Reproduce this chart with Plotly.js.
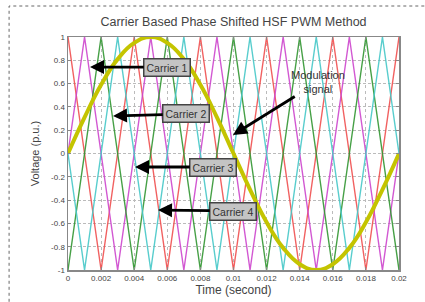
<!DOCTYPE html>
<html><head><meta charset="utf-8">
<script src="https://cdn.plot.ly/plotly-3.0.1.min.js"></script>
<style>html,body{margin:0;padding:0;background:#fff}#c{width:425px;height:302px}</style>
</head><body><div id="c"></div>
<script>
// Carrier 1..4 vertex times (s) and values (p.u.)
const c1T = [0,0.002,0.004,0.006,0.008,0.010,0.012,0.014,0.016,0.018,0.020];
const c1V = [1,-1,1,-1,1,-1,1,-1,1,-1,1];
const c2T = [0,0.001,0.003,0.005,0.007,0.009,0.011,0.013,0.015,0.017,0.019,0.020];
const c2V = [0,1,-1,1,-1,1,-1,1,-1,1,-1,0];
const c3T = [0,0.002,0.004,0.006,0.008,0.010,0.012,0.014,0.016,0.018,0.020];
const c3V = [-1,1,-1,1,-1,1,-1,1,-1,1,-1];
const c4T = [0,0.001,0.003,0.005,0.007,0.009,0.011,0.013,0.015,0.017,0.019,0.020];
const c4V = [0,-1,1,-1,1,-1,1,-1,1,-1,1,0];
// Modulation signal samples
const modT = [0,0.001,0.002,0.003,0.004,0.005,0.006,0.007,0.008,0.009,0.010,0.011,0.012,0.013,0.014,0.015,0.016,0.017,0.018,0.019,0.020];
const modV = [0,0.31,0.59,0.81,0.95,1,0.95,0.81,0.59,0.31,0,-0.31,-0.59,-0.81,-0.95,-1,-0.95,-0.81,-0.59,-0.31,0];
const xTicks = [0,0.002,0.004,0.006,0.008,0.01,0.012,0.014,0.016,0.018,0.02];
const xTickText = ["0","0.002","0.004","0.006","0.008","0.01","0.012","0.014","0.016","0.018","0.02"];
const yTicks = [-1,-0.8,-0.6,-0.4,-0.2,0,0.2,0.4,0.6,0.8,1];
const yTickText = ["-1","-0.8","-0.6","-0.4","-0.2","0","0.2","0.4","0.6","0.8","1"];
const labels = ["Carrier 1","Carrier 2","Carrier 3","Carrier 4"];
const labelTipT = [0.00133,0.00272,0.00405,0.00544];
const labelTipV = [0.742,0.322,-0.116,-0.485];

const ln = (x,y,c)=>({x:x,y:y,type:'scatter',mode:'lines',line:{color:c,width:1.4},hoverinfo:'skip'});
const data = [
  ln(c1T,c1V,'rgba(240,80,80,0.9)'),
  ln(c2T,c2V,'rgba(205,70,205,0.9)'),
  ln(c3T,c3V,'rgba(50,150,50,0.9)'),
  ln(c4T,c4V,'rgba(70,200,200,0.9)'),
  {x:modT,y:modV,type:'scatter',mode:'lines',line:{color:'#c4c400',width:4,shape:'spline',smoothing:1.3},hoverinfo:'skip'}
];
const boxOffsets = [[77,0],[73,-2],[78,0],[75,1]];
const ann = labels.map((t,i)=>({x:labelTipT[i],y:labelTipV[i],xref:'x',yref:'y',text:t,showarrow:true,
  ax:boxOffsets[i][0],ay:boxOffsets[i][1],arrowhead:2,arrowsize:1,arrowwidth:2.8,arrowcolor:'#000',
  bgcolor:'#c4c4c4',bordercolor:'#444',borderwidth:1.5,borderpad:2,
  font:{family:'Liberation Sans, Arial',size:10.5,color:'#333'}}));
ann.push({x:0.00997,y:0.159,xref:'x',yref:'y',text:'Modulation<br>signal',showarrow:true,ax:85,ay:-53,
  arrowhead:2,arrowsize:1,arrowwidth:2.8,arrowcolor:'#000',font:{family:'Liberation Sans, Arial',size:11,color:'#333'}});
const axFont = {family:'Liberation Sans, Arial',size:8,color:'#444'};
const layout = {
  width:425,height:302,margin:{l:68,r:26,t:37,b:32},
  paper_bgcolor:'#fff',plot_bgcolor:'#fff',showlegend:false,
  title:{text:'Carrier Based Phase Shifted HSF PWM Method',x:0.5,xref:'paper',y:0.93,yref:'container',yanchor:'middle',
    font:{family:'Liberation Sans, Arial',size:12.5,color:'#444'}},
  xaxis:{range:[0,0.02],tickvals:xTicks,ticktext:xTickText,tickfont:axFont,ticks:'inside',ticklen:3,tickcolor:'#888',
    showline:true,linecolor:'#888',linewidth:1.5,mirror:'ticks',showgrid:true,gridcolor:'#bbb',griddash:'dot',gridwidth:1,zeroline:false,
    title:{text:'Time (second)',font:{family:'Liberation Sans, Arial',size:12,color:'#444'},standoff:2}},
  yaxis:{range:[-1,1],tickvals:yTicks,ticktext:yTickText,tickfont:axFont,ticks:'inside',ticklen:3,tickcolor:'#888',
    showline:true,linecolor:'#888',linewidth:1.5,mirror:'ticks',showgrid:true,gridcolor:'#bbb',griddash:'3px,2px',gridwidth:1,zeroline:false,
    title:{text:'Voltage (p.u.)',font:{family:'Liberation Sans, Arial',size:11,color:'#444'},standoff:9}},
  annotations:ann,
  shapes:[{type:'rect',xref:'paper',yref:'paper',x0:-0.178,x1:1.25,y0:-0.3,y1:1.133,line:{color:'#666',width:1,dash:'3px,3px'},layer:'below'}]
};
Plotly.newPlot('c',data,layout,{displayModeBar:false,staticPlot:true});
</script></body></html>
